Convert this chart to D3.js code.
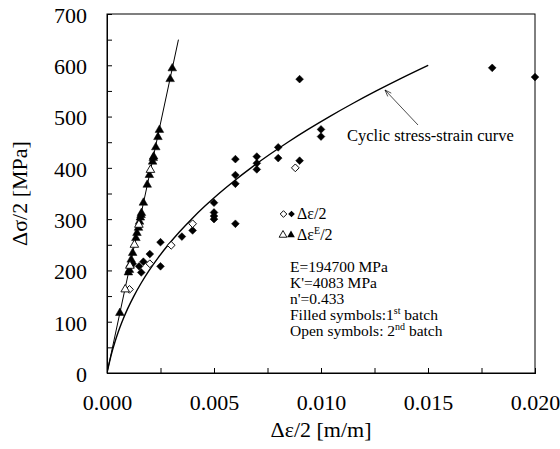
<!DOCTYPE html>
<html>
<head>
<meta charset="utf-8">
<script src="https://cdn.jsdelivr.net/npm/d3@7"></script>
<style>
  body { margin: 0; background: #fff; }
  svg { display: block; font-family: "Liberation Serif", "Times New Roman", serif; }
</style>
</head>
<body>
<svg id="chart" width="560" height="449"></svg>
<script>
// material constants shown on the chart (Ramberg-Osgood fit)
const E_MOD = 194700, K_PRIME = 4083, N_PRIME = 0.433;

// stress levels used to trace the fitted cyclic curve and the elastic line
const curveStress = [0, 5, 10, 20, 30, 45, 60, 80, 100, 125, 150, 175, 200, 225, 250, 275, 300,
  325, 350, 375, 400, 425, 450, 475, 500, 525, 550, 575, 600];
const elasticStress = [0, 650];

// total strain amplitude, 1st batch (filled diamonds) [strain, stress]
const totalFilled = [
  [0.0012, 213], [0.0015, 208], [0.0017, 217], [0.0016, 196], [0.0020, 232],
  [0.0025, 255], [0.0025, 208], [0.0035, 266], [0.0040, 278],
  [0.0050, 332], [0.0050, 313], [0.0050, 306], [0.0050, 300],
  [0.0060, 417], [0.0060, 386], [0.0060, 369], [0.0060, 291],
  [0.0070, 422], [0.0070, 409], [0.0070, 397],
  [0.0080, 440], [0.0080, 419], [0.0090, 573], [0.0090, 414],
  [0.0100, 475], [0.0100, 461], [0.0180, 595], [0.0200, 577]
];
// total strain amplitude, 2nd batch (open diamonds)
const totalOpen = [
  [0.00105, 163], [0.0020, 213], [0.0030, 249], [0.0040, 291], [0.0088, 400]
];
// elastic strain amplitude, 1st batch (filled triangles)
const elasticFilled = [
  [0.00060, 117], [0.00100, 196], [0.00105, 201], [0.00108, 211], [0.00113, 221],
  [0.00120, 234], [0.00135, 263], [0.00140, 273], [0.00147, 283], [0.00152, 295],
  [0.00156, 303], [0.00159, 308], [0.00161, 312], [0.00170, 332], [0.00188, 367],
  [0.00198, 386], [0.00213, 412], [0.00216, 419], [0.00218, 422], [0.00228, 440],
  [0.00238, 460], [0.00245, 474], [0.00295, 573], [0.00305, 594]
];
// elastic strain amplitude, 2nd batch (open triangles)
const elasticOpen = [
  [0.00085, 163], [0.00107, 209], [0.00128, 250], [0.00149, 289], [0.00203, 396]
];

const xTicks = [0, 0.005, 0.010, 0.015, 0.020];
const xMinorTicks = [0.0025, 0.0075, 0.0125, 0.0175];
const yTicks = [0, 100, 200, 300, 400, 500, 600, 700];
const yMinorTicks = [50, 150, 250, 350, 450, 550, 650];

const margin = {top: 14, right: 25, bottom: 76, left: 107};
const W = 560, H = 449;
const svg = d3.select("#chart");

const x = d3.scaleLinear().domain([0, 0.02]).range([margin.left, W - margin.right]);
const y = d3.scaleLinear().domain([0, 700]).range([H - margin.bottom, margin.top]);

// frame
svg.append("rect")
  .attr("x", x(0)).attr("y", y(700))
  .attr("width", x(0.02) - x(0)).attr("height", y(0) - y(700))
  .attr("fill", "none").attr("stroke", "#000").attr("stroke-width", 1);

// axes (ticks pointing inwards)
svg.append("g")
  .attr("transform", `translate(0,${y(0)})`)
  .call(d3.axisBottom(x).tickValues(xTicks).tickSize(-5).tickPadding(21).tickFormat(d3.format(".3f")));
svg.append("g")
  .attr("transform", `translate(0,${y(0)})`)
  .call(d3.axisBottom(x).tickValues(xMinorTicks).tickSize(-5).tickFormat(""));
const yAxis = svg.append("g")
  .attr("transform", `translate(${x(0)},0)`)
  .call(d3.axisLeft(y).tickValues(yTicks).tickSize(-5).tickPadding(20).tickFormat(d3.format("d")));
svg.append("g")
  .attr("transform", `translate(${x(0)},0)`)
  .call(d3.axisLeft(y).tickValues(yMinorTicks).tickSize(-5).tickFormat(""));

svg.selectAll(".domain").attr("stroke", "#000");
svg.selectAll(".tick line").attr("stroke", "#000");
svg.selectAll(".tick text")
  .attr("font-family", "'Liberation Serif', 'Times New Roman', serif")
  .attr("font-size", 22).attr("fill", "#000");
yAxis.selectAll(".tick text").attr("dy", "0.38em");

// axis titles
svg.append("text")
  .attr("x", (x(0) + x(0.02)) / 2).attr("y", 437)
  .attr("text-anchor", "middle").attr("font-size", 22)
  .text("\u0394\u03b5/2 [m/m]");
svg.append("text")
  .attr("transform", `translate(27,${(y(0) + y(700)) / 2}) rotate(-90)`)
  .attr("text-anchor", "middle").attr("font-size", 22)
  .text("\u0394\u03c3/2 [MPa]");

// plot content, clipped to the frame
svg.append("clipPath").attr("id", "plotClip")
  .append("rect")
  .attr("x", x(0)).attr("y", y(700))
  .attr("width", x(0.02) - x(0)).attr("height", y(0) - y(700));
const plot = svg.append("g").attr("clip-path", "url(#plotClip)");

// elastic line and cyclic stress-strain curve
const strainOf = s => s / E_MOD + Math.pow(s / K_PRIME, 1 / N_PRIME);
const line = d3.line().x(d => x(d[0])).y(d => y(d[1]));
plot.append("path")
  .datum(elasticStress.map(s => [s / E_MOD, s]))
  .attr("d", line).attr("fill", "none").attr("stroke", "#000").attr("stroke-width", 1);
plot.append("path")
  .datum(curveStress.map(s => [strainOf(s), s]))
  .attr("d", d3.line().curve(d3.curveMonotoneY).x(d => x(d[0])).y(d => y(d[1])))
  .attr("fill", "none").attr("stroke", "#000").attr("stroke-width", 1.4);

// markers
const diamond = d3.symbol().type(d3.symbolSquare).size(30);
const triangle = d3.symbol().type(d3.symbolTriangle).size(32);
const legDiamond = d3.symbol().type(d3.symbolSquare).size(22);
const legTriangle = d3.symbol().type(d3.symbolTriangle).size(26);

function drawMarks(data, sym, rot, filled) {
  const g = svg.append("g");
  g.selectAll("path")
    .data(data)
    .join("path")
    .attr("d", sym)
    .attr("transform", d => `translate(${x(d[0])},${y(d[1])}) rotate(${rot})`)
    .attr("fill", filled ? "#000" : "#fff")
    .attr("stroke", "#000")
    .attr("stroke-width", filled ? 0.5 : 0.9);
}
drawMarks(totalFilled, diamond, 45, true);
drawMarks(elasticFilled, triangle, 0, true);
drawMarks(totalOpen, diamond, 45, false);
drawMarks(elasticOpen, triangle, 0, false);

// annotation arrow
const tip = [385, 90], tail = [418, 125];
const ang = Math.atan2(tail[1] - tip[1], tail[0] - tip[0]);
svg.append("line")
  .attr("x1", tail[0]).attr("y1", tail[1]).attr("x2", tip[0]).attr("y2", tip[1])
  .attr("stroke", "#000").attr("stroke-width", 0.7);
svg.append("path")
  .attr("d", `M${tip[0] + 7 * Math.cos(ang + 0.35)},${tip[1] + 7 * Math.sin(ang + 0.35)}L${tip[0]},${tip[1]}L${tip[0] + 7 * Math.cos(ang - 0.35)},${tip[1] + 7 * Math.sin(ang - 0.35)}`)
  .attr("fill", "none").attr("stroke", "#000").attr("stroke-width", 0.7);
svg.append("text")
  .attr("x", 347).attr("y", 141).attr("font-size", 16.5)
  .text("Cyclic stress-strain curve");

// legend
const legend = svg.append("g");
legend.append("path").attr("d", legDiamond).attr("transform", "translate(283.5,214) rotate(45)")
  .attr("fill", "#fff").attr("stroke", "#000").attr("stroke-width", 0.9);
legend.append("path").attr("d", legDiamond).attr("transform", "translate(291.5,214) rotate(45)")
  .attr("fill", "#000");
legend.append("text").attr("x", 297).attr("y", 219).attr("font-size", 16).text("\u0394\u03b5/2");
legend.append("path").attr("d", legTriangle).attr("transform", "translate(283,235)")
  .attr("fill", "#fff").attr("stroke", "#000").attr("stroke-width", 0.9);
legend.append("path").attr("d", legTriangle).attr("transform", "translate(291,235)")
  .attr("fill", "#000");
const le = legend.append("text").attr("x", 297).attr("y", 240).attr("font-size", 16);
le.append("tspan").text("\u0394\u03b5");
le.append("tspan").attr("dy", -6).attr("font-size", 10).text("E");
le.append("tspan").attr("dy", 6).text("/2");

// parameter notes
const notes = svg.append("g").attr("font-size", 15.5);
notes.append("text").attr("x", 290).attr("y", 272).text("E=194700 MPa");
notes.append("text").attr("x", 290).attr("y", 288).text("K'=4083 MPa");
notes.append("text").attr("x", 290).attr("y", 304).text("n'=0.433");
const f1 = notes.append("text").attr("x", 290).attr("y", 320);
f1.append("tspan").text("Filled symbols:1");
f1.append("tspan").attr("dy", -6).attr("font-size", 10).text("st");
f1.append("tspan").attr("dy", 6).text(" batch");
const f2 = notes.append("text").attr("x", 290).attr("y", 336);
f2.append("tspan").text("Open symbols: 2");
f2.append("tspan").attr("dy", -6).attr("font-size", 10).text("nd");
f2.append("tspan").attr("dy", 6).text(" batch");
</script>
</body>
</html>
